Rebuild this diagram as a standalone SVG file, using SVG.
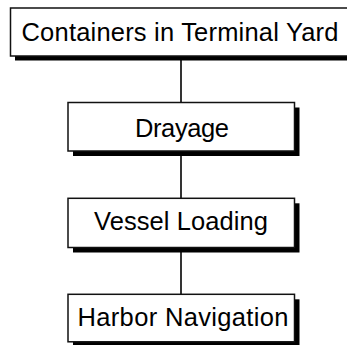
<svg xmlns="http://www.w3.org/2000/svg" width="347" height="345" viewBox="0 0 347 345">
<style>
.shadow{fill:#000;stroke:none}
.box{fill:#fff;stroke:#111;stroke-width:1.5}
.label{font-family:"Liberation Sans",Arial,sans-serif;font-size:25.5px;fill:#000;text-anchor:middle}
.conn{stroke:#000;stroke-width:1.6;fill:none}
</style>
<rect width="347" height="345" fill="#fff"/>
<g id="connectors">
<line class="conn" x1="181" y1="56" x2="181" y2="102.5"/>
<line class="conn" x1="181" y1="151" x2="181" y2="198.3"/>
<line class="conn" x1="181" y1="247.5" x2="181" y2="294.3"/>
</g>
<g id="node-containers">
<rect class="shadow" x="15" y="12.5" width="341" height="48"/>
<rect class="box" x="10.5" y="8" width="341" height="48"/>
<text class="label" x="180" y="41" textLength="317" lengthAdjust="spacing">Containers in Terminal Yard</text>
</g>
<g id="node-drayage">
<rect class="shadow" x="73" y="107.5" width="226.5" height="48.5"/>
<rect class="box" x="68" y="102.5" width="226.5" height="48.5"/>
<text class="label" x="182" y="137" textLength="94" lengthAdjust="spacing">Drayage</text>
</g>
<g id="node-vessel">
<rect class="shadow" x="73" y="203.3" width="226.5" height="49.2"/>
<rect class="box" x="68" y="198.3" width="226.5" height="49.2"/>
<text class="label" x="181" y="230" textLength="174" lengthAdjust="spacing">Vessel Loading</text>
</g>
<g id="node-harbor">
<rect class="shadow" x="73" y="299.3" width="226.5" height="47.5"/>
<rect class="box" x="68" y="294.3" width="226.5" height="47.5"/>
<text class="label" x="183" y="326" textLength="211" lengthAdjust="spacing">Harbor Navigation</text>
</g>
</svg>
